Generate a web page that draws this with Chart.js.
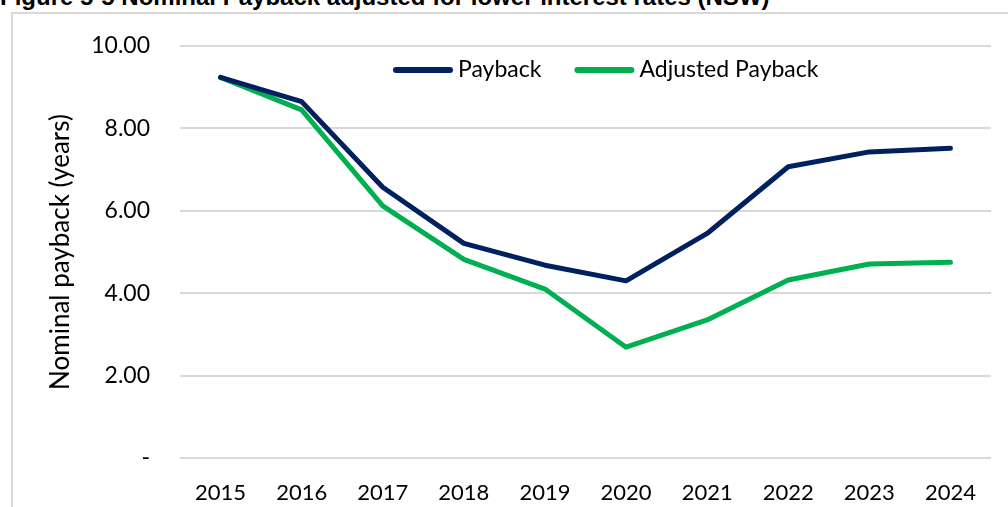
<!DOCTYPE html>
<html>
<head>
<meta charset="utf-8">
<script src="https://cdn.jsdelivr.net/npm/chart.js"></script>
<style>
  html, body { margin: 0; padding: 0; background: #fff; }
  body { width: 1008px; height: 507px; position: relative; overflow: hidden; }
  #title {
    position: absolute; left: 0; top: -15px; white-space: nowrap;
    font: bold 24px "Liberation Sans", Arial, sans-serif; line-height: 24px; color: #000;
  }
  #frame {
    position: absolute; left: 11px; top: 12px; width: 1100px; height: 600px;
    border-left: 2px solid #d9d9d9; border-top: 2px solid #d9d9d9;
  }
  #wrap { position: absolute; left: 0; top: 0; width: 1008px; height: 507px; }
</style>
</head>
<body>
<div id="title">Figure 5-5 Nominal Payback adjusted for lower interest rates (NSW)</div>
<div id="frame"></div>
<div id="wrap"><canvas id="chart" width="1008" height="507"></canvas></div>
<script>
// データ
const years = ['2015', '2016', '2017', '2018', '2019', '2020', '2021', '2022', '2023', '2024'];
const payback = [9.24, 8.65, 6.57, 5.21, 4.68, 4.30, 5.45, 7.07, 7.43, 7.52];
const adjustedPayback = [9.24, 8.45, 6.12, 4.82, 4.10, 2.69, 3.35, 4.32, 4.71, 4.75];
const yTicks = [0, 2, 4, 6, 8, 10];

const navy = '#002060';
const green = '#00B050';
const gridGray = '#d9d9d9';
const labelFont = 'Lato, "Open Sans", sans-serif';

// 凡例をプロットの内側（上部）に描く
const insideLegend = {
    id: 'insideLegend',
    afterDatasetsDraw(chart) {
        const { ctx, chartArea } = chart;
        const lineLen = 54;
        const gap = 8;
        const itemGap = 36;
        const y = chartArea.top + 24;
        let x = chartArea.left + 216;
        ctx.save();
        ctx.font = '23px ' + labelFont;
        ctx.textBaseline = 'middle';
        ctx.textAlign = 'left';
        chart.data.datasets.forEach((ds) => {
            ctx.strokeStyle = ds.borderColor;
            ctx.lineWidth = 6;
            ctx.lineCap = 'round';
            ctx.beginPath();
            ctx.moveTo(x, y);
            ctx.lineTo(x + lineLen, y);
            ctx.stroke();
            x += lineLen + gap;
            ctx.fillStyle = '#000';
            ctx.fillText(ds.label, x, y);
            x += ctx.measureText(ds.label).width + itemGap;
        });
        ctx.restore();
    }
};

const ctx = document.getElementById('chart').getContext('2d');

new Chart(ctx, {
    type: 'line',
    data: {
        labels: years,
        datasets: [
            {
                label: 'Payback',
                data: payback,
                borderColor: navy,
                backgroundColor: navy,
                borderWidth: 5,
                borderCapStyle: 'round',
                borderJoinStyle: 'round',
                pointRadius: 0,
                tension: 0
            },
            {
                label: 'Adjusted Payback',
                data: adjustedPayback,
                borderColor: green,
                backgroundColor: green,
                borderWidth: 5,
                borderCapStyle: 'round',
                borderJoinStyle: 'round',
                pointRadius: 0,
                tension: 0
            }
        ]
    },
    options: {
        responsive: false,
        animation: false,
        devicePixelRatio: 1,
        layout: { padding: { left: 0, top: 46, right: 17, bottom: 0 } },
        plugins: {
            legend: { display: false },
            tooltip: { enabled: false },
            title: { display: false }
        },
        scales: {
            x: {
                offset: true,
                grid: { display: false, drawTicks: false },
                border: { display: false },
                ticks: {
                    color: '#000',
                    padding: 22,
                    maxRotation: 0,
                    font: { family: labelFont, size: 22 }
                },
                afterFit: (scale) => { scale.height = 49; }
            },
            y: {
                min: 0,
                max: 10,
                afterBuildTicks: (scale) => { scale.ticks = yTicks.map(v => ({ value: v })); },
                grid: { color: gridGray, lineWidth: 2, drawTicks: false },
                border: { display: false },
                ticks: {
                    color: '#000',
                    padding: 30,
                    font: { family: labelFont, size: 23 },
                    callback: (v) => v === 0 ? '-' : v.toFixed(2)
                },
                title: {
                    display: true,
                    text: 'Nominal payback (years)',
                    color: '#000',
                    font: { family: labelFont, size: 26 },
                    padding: { top: 45, bottom: 0 }
                },
                afterFit: (scale) => { scale.width = 180; }
            }
        }
    },
    plugins: [insideLegend]
});
</script>
</body>
</html>
